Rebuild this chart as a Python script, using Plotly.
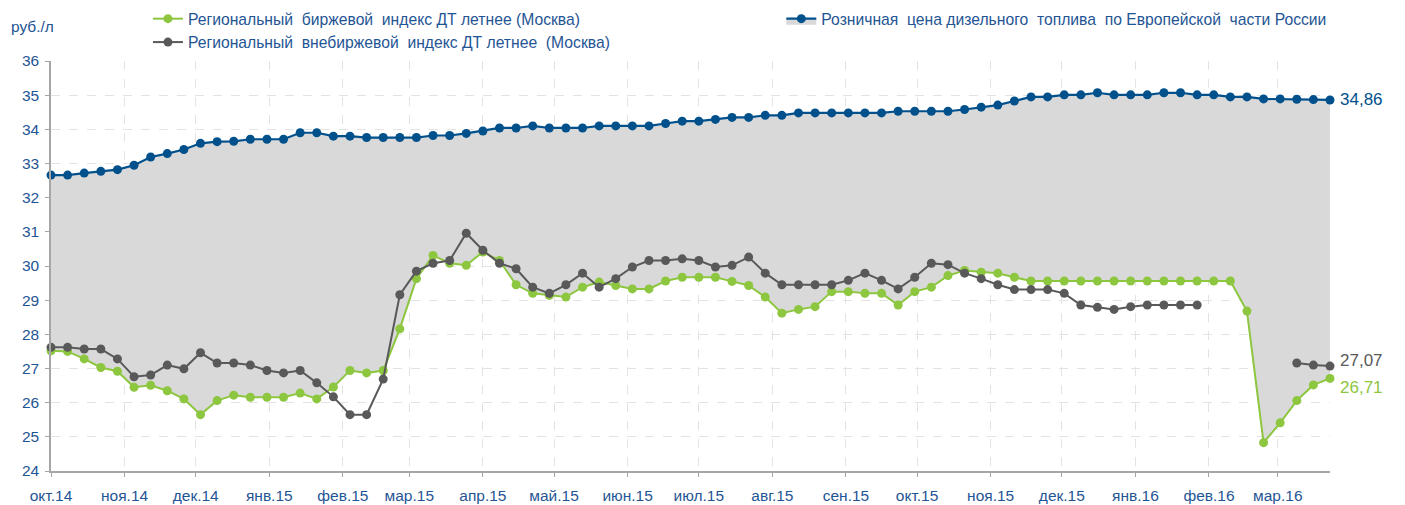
import pandas as pd
import plotly.graph_objects as go

# weekly observations, starting 1 Oct 2014
dates = pd.date_range('2014-10-01', periods=78, freq='7D')

month_ticks = pd.date_range('2014-10-01', '2016-03-01', freq='MS')
month_labels = ['окт.14', 'ноя.14', 'дек.14', 'янв.15', 'фев.15', 'мар.15', 'апр.15',
                'май.15', 'июн.15', 'июл.15', 'авг.15', 'сен.15', 'окт.15', 'ноя.15',
                'дек.15', 'янв.16', 'фев.16', 'мар.16']

retail = [32.66, 32.66, 32.72, 32.77, 32.82, 32.95, 33.19, 33.29, 33.41, 33.59,
          33.64, 33.65, 33.71, 33.71, 33.71, 33.90, 33.90, 33.80, 33.80, 33.76,
          33.76, 33.76, 33.76, 33.82, 33.82, 33.88, 33.95, 34.04, 34.04, 34.10,
          34.04, 34.04, 34.04, 34.10, 34.10, 34.10, 34.10, 34.17, 34.24, 34.24,
          34.29, 34.35, 34.35, 34.41, 34.41, 34.48, 34.48, 34.48, 34.48, 34.48,
          34.48, 34.53, 34.53, 34.53, 34.53, 34.58, 34.65, 34.71, 34.83, 34.95,
          34.95, 35.01, 35.01, 35.07, 35.01, 35.01, 35.01, 35.07, 35.07, 35.01,
          35.01, 34.95, 34.95, 34.89, 34.89, 34.88, 34.87, 34.86]

exchange = [27.52, 27.50, 27.28, 27.03, 26.92, 26.45, 26.51, 26.35, 26.11, 25.65,
            26.06, 26.22, 26.16, 26.16, 26.16, 26.28, 26.11, 26.46, 26.94, 26.87,
            26.94, 28.16, 29.63, 30.31, 30.08, 30.02, 30.41, 30.16, 29.45, 29.20,
            29.14, 29.09, 29.38, 29.53, 29.43, 29.33, 29.33, 29.56, 29.67, 29.67,
            29.67, 29.55, 29.43, 29.09, 28.62, 28.73, 28.81, 29.25, 29.25, 29.20,
            29.20, 28.86, 29.25, 29.38, 29.72, 29.87, 29.82, 29.79, 29.67, 29.56,
            29.56, 29.56, 29.56, 29.56, 29.56, 29.56, 29.56, 29.56, 29.56, 29.56,
            29.56, 29.56, 28.68, 24.83, 25.41, 26.06, 26.52, 26.71]

otc = [27.62, 27.62, 27.57, 27.57, 27.28, 26.76, 26.81, 27.10, 26.99, 27.46,
       27.16, 27.16, 27.10, 26.94, 26.87, 26.94, 26.58, 26.17, 25.65, 25.65,
       26.69, 29.16, 29.85, 30.08, 30.16, 30.96, 30.46, 30.08, 29.92, 29.38,
       29.20, 29.45, 29.79, 29.38, 29.63, 29.97, 30.16, 30.16, 30.21, 30.16,
       29.97, 30.02, 30.26, 29.79, 29.45, 29.45, 29.45, 29.45, 29.58, 29.79,
       29.58, 29.33, 29.67, 30.08, 30.04, 29.79, 29.63, 29.45, 29.31, 29.31,
       29.31, 29.20, 28.86, 28.79, 28.73, 28.81, 28.86, 28.86, 28.86, 28.86,
       None, None, None, None, None, 27.16, 27.10, 27.07]

BLUE = '#00508c'
GREEN = '#8dc63f'
DARK = '#595959'
TEXT = '#1f5594'
FONT = 'Liberation Sans'
FS = 15.5

fig = go.Figure()

# invisible lower edge for the grey band (exchange index)
fig.add_trace(go.Scatter(
    x=dates, y=exchange, mode='lines', line=dict(width=0),
    showlegend=False, hoverinfo='skip'
))

fig.add_trace(go.Scatter(
    x=dates, y=retail,
    name='Розничная  цена дизельного  топлива  по Европейской  части России',
    mode='lines+markers', fill='tonexty', fillcolor='#d9d9d9',
    line=dict(color=BLUE, width=2.2), marker=dict(size=9, color=BLUE),
    cliponaxis=False, legend='legend2'
))

fig.add_trace(go.Scatter(
    x=dates, y=exchange,
    name='Региональный  биржевой  индекс ДТ летнее (Москва)',
    mode='lines+markers',
    line=dict(color=GREEN, width=2), marker=dict(size=9, color=GREEN),
    cliponaxis=False
))

fig.add_trace(go.Scatter(
    x=dates, y=otc,
    name='Региональный  внебиржевой  индекс ДТ летнее  (Москва)',
    mode='lines+markers', connectgaps=False,
    line=dict(color=DARK, width=2), marker=dict(size=9, color=DARK),
    cliponaxis=False
))

# end-of-series value labels
for series, color, dy in [(retail, BLUE, 0), (otc, DARK, 6), (exchange, GREEN, -9)]:
    fig.add_annotation(
        x=dates[-1], y=series[-1], xref='x', yref='y',
        text=f'{series[-1]:.2f}'.replace('.', ','),
        showarrow=False, xanchor='left', xshift=8, yshift=dy,
        font=dict(family=FONT, size=17, color=color)
    )

# axis unit
fig.add_annotation(
    x=-0.0325, y=1.083, xref='paper', yref='paper', text='руб./л',
    showarrow=False, xanchor='left', yanchor='middle',
    font=dict(family=FONT, size=FS, color=TEXT)
)

# the page body adds an 8px offset, so margins are trimmed by 8 on the top/left
fig.update_layout(
    width=1405, height=505,
    margin=dict(l=43, r=83, t=53, b=42, autoexpand=False),
    plot_bgcolor='white', paper_bgcolor='white',
    font=dict(family=FONT, size=FS, color=TEXT),
    legend=dict(
        x=0.0758, y=1.144, xanchor='left', yanchor='top',
        bgcolor='rgba(0,0,0,0)', font=dict(size=15.7, color=TEXT),
        tracegroupgap=0
    ),
    legend2=dict(
        x=0.571, y=1.144, xanchor='left', yanchor='top',
        bgcolor='rgba(0,0,0,0)', font=dict(size=15.7, color=TEXT)
    ),
    xaxis=dict(
        type='date', range=[dates[0], dates[-1]], automargin=False,
        tickvals=month_ticks, ticktext=month_labels,
        showgrid=True, gridcolor='#e3e3e3', griddash='dash', gridwidth=1,
        showline=True, linecolor='#a6a6a6', linewidth=2,
        ticks='outside', ticklen=4, tickcolor='#a6a6a6',
        ticklabelstandoff=5,
        tickfont=dict(size=FS, color=TEXT), zeroline=False
    ),
    yaxis=dict(
        range=[24, 36], dtick=1, automargin=False,
        showgrid=True, gridcolor='#e3e3e3', griddash='dash', gridwidth=1,
        showline=True, linecolor='#a6a6a6', linewidth=1.5,
        ticks='outside', ticklen=4, tickcolor='#a6a6a6',
        ticklabelstandoff=3,
        tickfont=dict(size=FS, color=TEXT), zeroline=False
    ),
)

fig.write_html('out.html')
